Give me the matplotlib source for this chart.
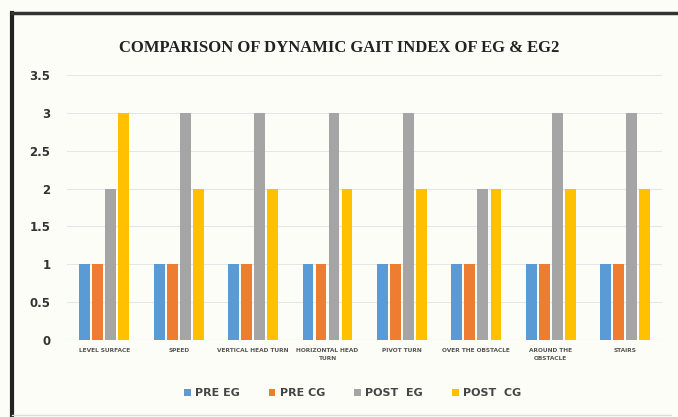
import matplotlib.pyplot as plt
import numpy as np
from matplotlib.lines import Line2D

# Dynamic gait index items
categories = ['LEVEL SURFACE', 'SPEED', 'VERTICAL HEAD TURN', 'HORIZONTAL HEAD\nTURN',
              'PIVOT TURN', 'OVER THE OBSTACLE', 'AROUND THE\nOBSTACLE', 'STAIRS']
series_names = ['PRE EG', 'PRE CG', 'POST  EG', 'POST  CG']
pre_eg = [1, 1, 1, 1, 1, 1, 1, 1]
pre_cg = [1, 1, 1, 1, 1, 1, 1, 1]
post_eg = [2, 3, 3, 3, 3, 2, 3, 3]
post_cg = [3, 2, 2, 2, 2, 2, 2, 2]
colors = ['#5B9BD5', '#ED7D31', '#A5A5A5', '#FFC000']

fig = plt.figure(figsize=(6.78, 4.17), dpi=100, facecolor='#FDFDF8')

# outer frame of the chart
fig.add_artist(Line2D([0.018, 0.018], [0.0, 0.97], color='#222222', lw=3, transform=fig.transFigure))
fig.add_artist(Line2D([0.018, 1.0], [0.97, 0.97], color='#333333', lw=2.5, transform=fig.transFigure))
fig.add_artist(Line2D([0.018, 0.99], [0.005, 0.005], color='#DDDDDD', lw=1, transform=fig.transFigure))

ax = fig.add_axes([0.099, 0.185, 0.878, 0.635])
ax.set_facecolor('#FDFDF8')

x = np.arange(len(categories))
width = 0.145
step = 0.175
for i, (vals, name) in enumerate(zip([pre_eg, pre_cg, post_eg, post_cg], series_names)):
    ax.bar(x + (i - 1.5) * step, vals, width, color=colors[i], label=name, zorder=3)

ax.set_ylim(0, 3.5)
ax.set_yticks(np.arange(0, 3.6, 0.5))
ax.set_yticklabels(['0', '0.5', '1', '1.5', '2', '2.5', '3', '3.5'],
                   fontsize=8.5, fontweight='bold', color='#333333')
ax.set_xlim(-0.5, len(categories) - 0.5)
ax.set_xticks(x)
ax.set_xticklabels(categories, fontsize=4.2, fontweight='bold', color='#555555', linespacing=1.6)
ax.tick_params(axis='both', length=0, pad=6)
ax.tick_params(axis='y', pad=12)

ax.yaxis.grid(True, color='#E6E6E6', lw=0.8, zorder=0)
for s in ax.spines.values():
    s.set_visible(False)
ax.axhline(0, color='#D9D9D9', lw=0.8, zorder=2)

fig.text(0.5, 0.885, 'COMPARISON OF DYNAMIC GAIT INDEX OF EG & EG2', ha='center', va='center',
         fontsize=12, fontweight='bold', family='Liberation Serif', color='#222222')

fig.legend(loc='center', bbox_to_anchor=(0.52, 0.057), ncol=4, frameon=False,
           prop={'weight': 'bold', 'size': 8}, handlelength=0.6, handleheight=0.6,
           handletextpad=0.4, columnspacing=2.6, labelcolor='#444444')

fig.savefig('out.png', dpi=100, facecolor=fig.get_facecolor())
